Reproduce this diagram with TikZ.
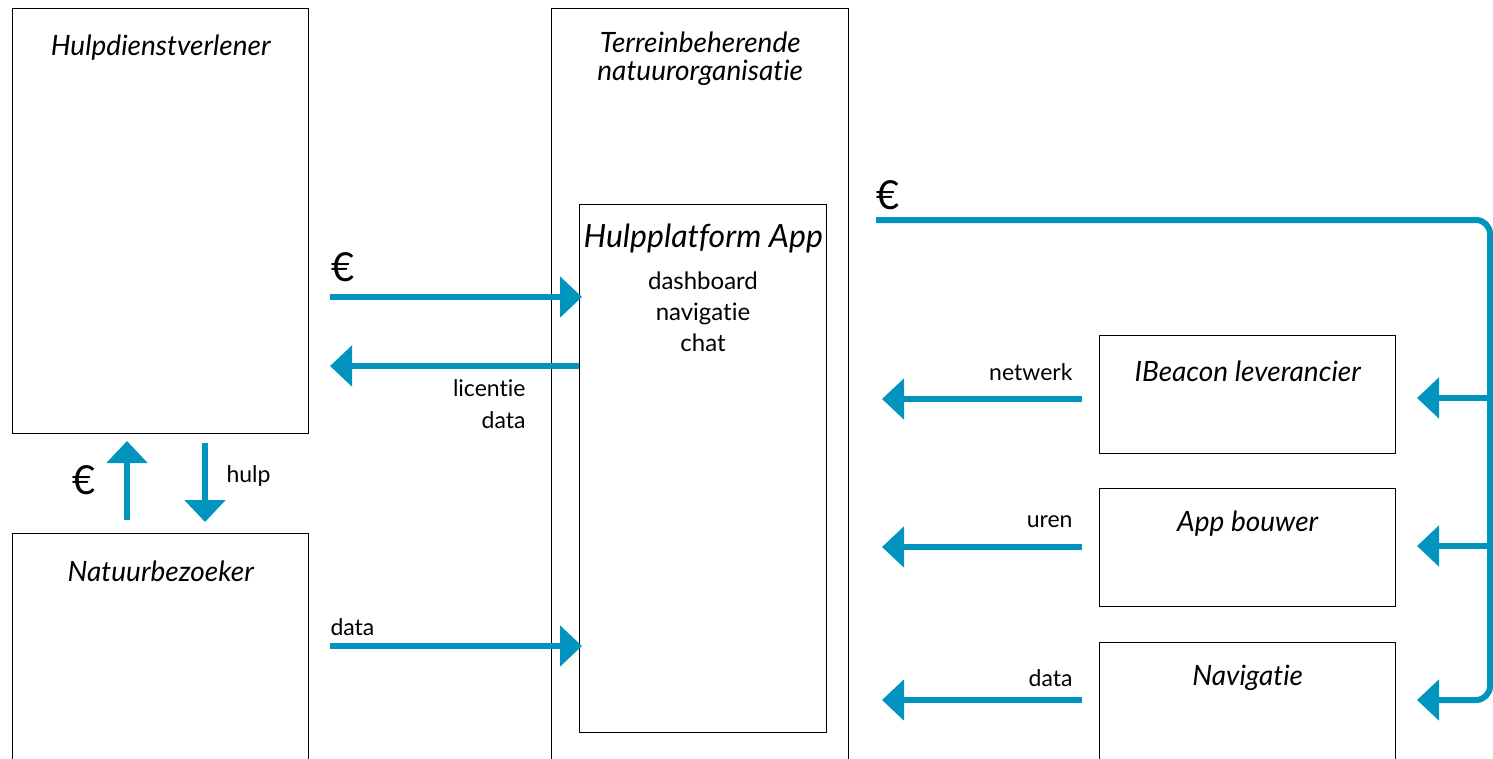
\documentclass[tikz,border=0pt]{standalone}
\usepackage{fontspec}
\setmainfont{Lato}[Ligatures={NoCommon}]
\usetikzlibrary{arrows.meta,positioning}
\definecolor{flow}{RGB}{0,148,190}
\tikzset{
  box/.style={draw=black, line width=1.4pt, anchor=north west, inner sep=0pt},
  title/.style={font=\fontsize{28}{28}\selectfont\itshape, align=center},
  lbl/.style={font=\fontsize{23}{32}\selectfont},
  euro/.style={font=\fontsize{40}{40}\selectfont},
  flowline/.style={draw=flow, line width=6pt},
  flowarrow/.style={flowline, -{Triangle[length=22pt,width=40pt]}},
}
\begin{document}
\begin{tikzpicture}[x=1pt,y=-1pt]
\useasboundingbox (0,0) rectangle (1493,758);
\clip (0,0) rectangle (1493,758);

% Actors
\node[box, minimum width=296pt, minimum height=425pt] (hulpdienst) at (12,8) {};
\node[title] (hulpdienst-t) at ([yshift=-40pt]hulpdienst.north) {Hulpdienstverlener};

\node[box, minimum width=296pt, minimum height=300pt] (bezoeker) at (12,533) {};
\node[title] (bezoeker-t) at ([yshift=-38pt]bezoeker.north) {Natuurbezoeker};

\node[box, minimum width=297pt, minimum height=800pt] (terrein) at (551,8) {};
\node[title] (terrein-t) at ([yshift=-51pt]terrein.north) {Terreinbeherende\\natuurorganisatie};

% Platform
\node[box, minimum width=247pt, minimum height=528pt] (app) at (579,204) {};
\node[title, font=\fontsize{32}{32}\selectfont\itshape] (app-t) at ([yshift=-34pt]app.north) {Hulpplatform App};
\node[lbl, font=\fontsize{24}{31}\selectfont, align=center] (app-f) at (703,312) {dashboard\\navigatie\\chat};

% Suppliers
\node[box, minimum width=296pt, minimum height=118pt] (beacon) at (1099,335) {};
\node[title] (beacon-t) at ([yshift=-36pt]beacon.north) {IBeacon leverancier};
\node[box, minimum width=296pt, minimum height=118pt] (bouwer) at (1099,488) {};
\node[title] (bouwer-t) at ([yshift=-36pt]bouwer.north) {App bouwer};
\node[box, minimum width=296pt, minimum height=150pt] (navig) at (1099,642) {};
\node[title] (navig-t) at ([yshift=-36pt]navig.north) {Navigatie};

% Hulpdienstverlener <-> platform
\coordinate (pay-in) at (330,297);
\draw[flowarrow] (pay-in) -- ([xshift=3pt]app.west |- pay-in);
\node[euro] (pay-in-l) at (343,267) {€};
\coordinate (lic-out) at (330,366);
\draw[flowarrow] (app.west |- lic-out) -- (lic-out);
\node[lbl, align=right, anchor=north east] (lic-out-l) at (529,376) {licentie\\data};

% Natuurbezoeker -> platform
\coordinate (data-in) at (330,646);
\draw[flowarrow] (data-in) -- ([xshift=3pt]app.west |- data-in);
\node[lbl, anchor=west] (data-in-l) at (327,627) {data};

% Natuurbezoeker <-> Hulpdienstverlener
\coordinate (pay-up) at (127,520);
\draw[flowarrow] (pay-up) -- (127,441);
\node[euro] (pay-up-l) at (84,480) {€};
\coordinate (help-dn) at (205,443);
\draw[flowarrow] (help-dn) -- (205,522);
\node[lbl, anchor=west] (help-dn-l) at (223,476) {hulp};

% Payment to suppliers
\coordinate (pay-out) at (876,220);
\node[euro] (pay-out-l) at (888,195) {€};
\draw[flowarrow, rounded corners=14pt] (pay-out) -- (1490,220) -- (1490,700) -- (1417,700);
\draw[flowarrow] (1490,398) -- (1417,398);
\draw[flowarrow] (1490,546) -- (1417,546);

% Supplier deliveries
\coordinate (net-out) at (882,399);
\draw[flowarrow] ([xshift=-17pt]beacon.west |- net-out) -- (net-out);
\node[lbl, anchor=east] (net-out-l) at (1076,372) {netwerk};
\coordinate (uren-out) at (882,547);
\draw[flowarrow] ([xshift=-17pt]bouwer.west |- uren-out) -- (uren-out);
\node[lbl, anchor=east] (uren-out-l) at (1076,522) {uren};
\coordinate (nav-out) at (882,700);
\draw[flowarrow] ([xshift=-17pt]navig.west |- nav-out) -- (nav-out);
\node[lbl, anchor=east] (nav-out-l) at (1076,678) {data};
\end{tikzpicture}
\end{document}
